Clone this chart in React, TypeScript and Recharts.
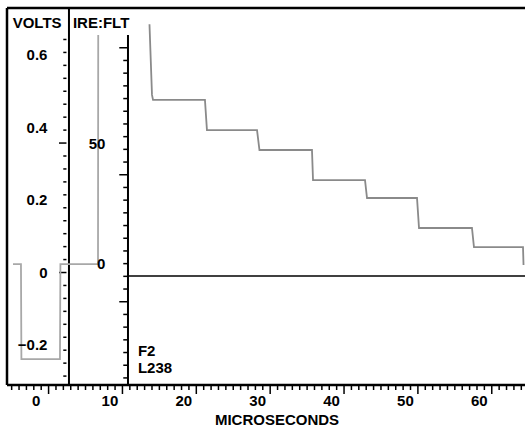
import React from 'react'
import {
  ComposedChart,
  Line,
  XAxis,
  YAxis,
  ReferenceLine,
  ReferenceDot,
} from 'recharts'

// time in microseconds, level in volts
const syncTrace = [
  { t: -4.82, v: 0.023 },
  { t: -3.74, v: 0.023 },
  { t: -3.68, v: -0.239 },
  { t: 1.54, v: -0.239 },
  { t: 1.6, v: 0.023 },
  { t: 6.69, v: 0.023 },
  { t: 6.72, v: 0.655 },
]

const staircase = [
  { t: 13.66, v: 0.685 },
  { t: 14.0, v: 0.49 },
  { t: 14.14, v: 0.476 },
  { t: 21.17, v: 0.476 },
  { t: 21.44, v: 0.393 },
  { t: 28.22, v: 0.393 },
  { t: 28.55, v: 0.338 },
  { t: 35.66, v: 0.338 },
  { t: 35.8, v: 0.255 },
  { t: 42.84, v: 0.255 },
  { t: 43.11, v: 0.2055 },
  { t: 49.88, v: 0.2055 },
  { t: 50.15, v: 0.1228 },
  { t: 57.32, v: 0.1228 },
  { t: 57.59, v: 0.0703 },
  { t: 64.23, v: 0.0703 },
  { t: 64.3, v: 0.0207 },
]

const timeDomain = [-5.63, 64.5]
const voltDomain = [-0.3103, 0.7297]

// x axis: minor tick every microsecond, labels every 10
const timeTicks = Array.from({ length: 70 }, (_, i) => i - 5)

// volts scale: labels, plus a tick every 5 IRE (1 IRE = 1/140 V)
const voltLabels = [0.6, 0.4, 0.2, 0, -0.2]
const voltTickIre = Array.from({ length: 27 }, (_, i) => -40 + i * 5)
const ireVolt = 1 / 140

// IRE:FLT scale labels
const ireLabels = [
  { text: '50', v: 0.3545 },
  { text: '0', v: 0.0234 },
]

// main panel ticks
const mainTickTop = 0.62
const mainTickStep = 0.03503
const mainTicks = Array.from({ length: 27 }, (_, i) => mainTickTop - i * mainTickStep)

const voltsDivider = 2.76
const mainDivider = 10.75
const mainDividerTop = 0.655
const baselineV = -0.0097

const font = "'Liberation Sans', Arial, Helvetica, sans-serif"

const TimeTick = (props: any) => {
  const { x, y, payload } = props
  const v = payload.value
  const major = v % 10 === 0
  return (
    <g>
      <line x1={x} x2={x} y1={y} y2={y + (major ? 9 : 5)} stroke="#000" strokeWidth={1.5} />
      {major && (
        <text x={x - 12.5} y={y + 21} textAnchor="middle" fontSize={15} fontWeight="bold" fill="#000">
          {v}
        </text>
      )}
    </g>
  )
}

const textShape = (text: string, anchor: string) => (p: any) => (
  <text
    x={p.cx}
    y={p.cy}
    textAnchor={anchor}
    dy={anchor === 'start' ? 0 : '0.36em'}
    fontSize={15}
    fontWeight="bold"
    fill="#000"
  >
    {text}
  </text>
)

const fmtVolt = (v: number) => (v < 0 ? '\u2212' + Math.abs(v).toFixed(1) : v === 0 ? '0' : v.toFixed(1))

export default function App() {
  return (
    <div style={{ position: 'absolute', left: 0, top: 0, fontFamily: font, background: '#fff' }}>
      <ComposedChart width={525} height={430} margin={{ top: 8, right: 0, bottom: 0, left: 7 }}>
        <XAxis
          dataKey="t"
          type="number"
          domain={timeDomain}
          allowDataOverflow
          ticks={timeTicks}
          interval={0}
          tick={<TimeTick />}
          tickLine={false}
          tickSize={0}
          tickMargin={0}
          height={45}
          axisLine={{ stroke: '#000', strokeWidth: 2.5 }}
          label={{
            value: 'MICROSECONDS',
            position: 'insideBottom',
            offset: 5,
            dx: 11,
            fontSize: 15,
            fontWeight: 'bold',
            fill: '#000',
          }}
        />
        <YAxis type="number" domain={voltDomain} allowDataOverflow hide />

        {/* frame */}
        <ReferenceLine x={timeDomain[0]} stroke="#000" strokeWidth={2.5} ifOverflow="visible" />
        <ReferenceLine y={voltDomain[1]} stroke="#000" strokeWidth={2.5} ifOverflow="visible" />

        <ReferenceLine x={voltsDivider} stroke="#000" strokeWidth={2} />
        <ReferenceLine
          segment={[{ x: mainDivider, y: mainDividerTop }, { x: mainDivider, y: voltDomain[0] }]}
          stroke="#000"
          strokeWidth={2}
          ifOverflow="visible"
        />
        <ReferenceLine
          segment={[{ x: mainDivider, y: baselineV }, { x: timeDomain[1], y: baselineV }]}
          stroke="#000"
          strokeWidth={1.5}
          ifOverflow="visible"
        />

        {voltTickIre.map((ire) => {
          const long = ire % 50 === 0
          return (
            <ReferenceLine
              key={'vt' + ire}
              segment={[{ x: long ? 1.41 : 1.99, y: ire * ireVolt }, { x: 2.42, y: ire * ireVolt }]}
              stroke="#000"
              strokeWidth={1.5}
            />
          )
        })}
        {mainTicks.map((v, i) => (
          <ReferenceLine
            key={'mt' + i}
            segment={[{ x: i % 10 === 0 ? 9.57 : 10.11, y: v }, { x: mainDivider, y: v }]}
            stroke="#000"
            strokeWidth={1.5}
          />
        ))}

        {voltLabels.map((v) => (
          <ReferenceDot key={'vl' + v} x={-0.15} y={v} r={0} shape={textShape(fmtVolt(v), 'end')} />
        ))}
        {ireLabels.map((d) => (
          <ReferenceDot key={'il' + d.text} x={7.7} y={d.v} r={0} shape={textShape(d.text, 'end')} />
        ))}
        <ReferenceDot x={-4.86} y={0.6737} r={0} shape={textShape('VOLTS', 'start')} />
        <ReferenceDot x={3.3} y={0.6737} r={0} shape={textShape('IRE:FLT', 'start')} />
        <ReferenceDot x={12.1} y={-0.229} r={0} shape={textShape('F2', 'start')} />
        <ReferenceDot x={12.1} y={-0.2759} r={0} shape={textShape('L238', 'start')} />

        <Line
          data={syncTrace}
          dataKey="v"
          type="linear"
          stroke="#a8a8a8"
          strokeWidth={1.8}
          dot={false}
          isAnimationActive={false}
        />
        <Line
          data={staircase}
          dataKey="v"
          type="linear"
          stroke="#8a8a8a"
          strokeWidth={1.8}
          dot={false}
          isAnimationActive={false}
        />
      </ComposedChart>
    </div>
  )
}
